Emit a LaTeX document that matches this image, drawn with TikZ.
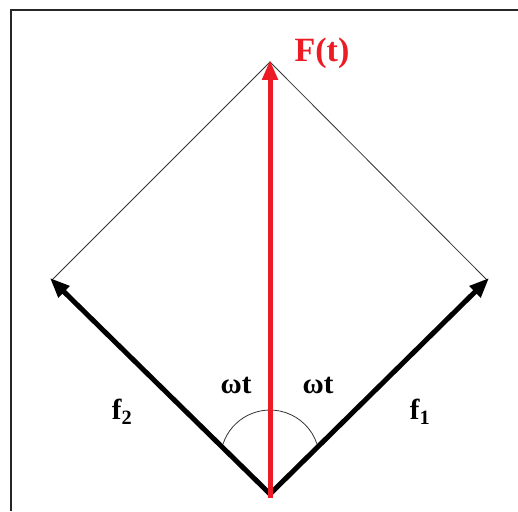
\documentclass[tikz,border=0pt]{standalone}
\usepackage{fontspec}
\setmainfont{Liberation Serif}
\usepackage{tikz}
\usetikzlibrary{arrows.meta}
\definecolor{forcered}{RGB}{237,28,36}

\begin{document}
\begin{tikzpicture}[x=1pt, y=1pt]
    % Define styles
    \tikzstyle{frame} = [line width=2pt, black!85]
    \tikzstyle{vector} = [line width=5pt, -{Triangle[length=20pt, width=15pt]}]
    \tikzstyle{guide} = [line width=0.8pt, black!80]
    \tikzstyle{label} = [inner sep=0pt, font=\fontsize{29}{32}\bfseries\selectfont]
    \useasboundingbox (0,0) rectangle (518,511);

    % Frame
    \draw [frame] (11,0) -- (11,501) -- (518,501);

    % Points
    \coordinate (origin) at (270,17);
    \coordinate (top) at (270,449);
    \coordinate (left) at (52,231);
    \coordinate (right) at (487,231);

    % Guide lines
    \draw [guide] (left) -- (top) -- (right);

    % Angle arc
    \draw [guide] ([shift={(-47,50)}]origin) arc[start angle=161.7, end angle=18.3, radius=49.5];

    % Arrows
    \draw [vector, shorten >=-3pt] (origin) -- (left);
    \draw [vector, shorten >=-3pt] (origin) -- (right);
    \draw [vector, forcered, shorten >=-2pt] ([yshift=-4pt]origin) -- (top);

    % Labels
    \node (ft) [label, forcered, font=\fontsize{34}{36}\bfseries\selectfont] at (322,458) {F(t)};
    \node (wtl) [label] at (236,126) {ωt};
    \node (wtr) [label] at (318,126) {ωt};
    \node (f2) [label] at (122,99) {f\textsubscript{2}};
    \node (f1) [label] at (420,99) {f\textsubscript{1}};
\end{tikzpicture}
\end{document}
